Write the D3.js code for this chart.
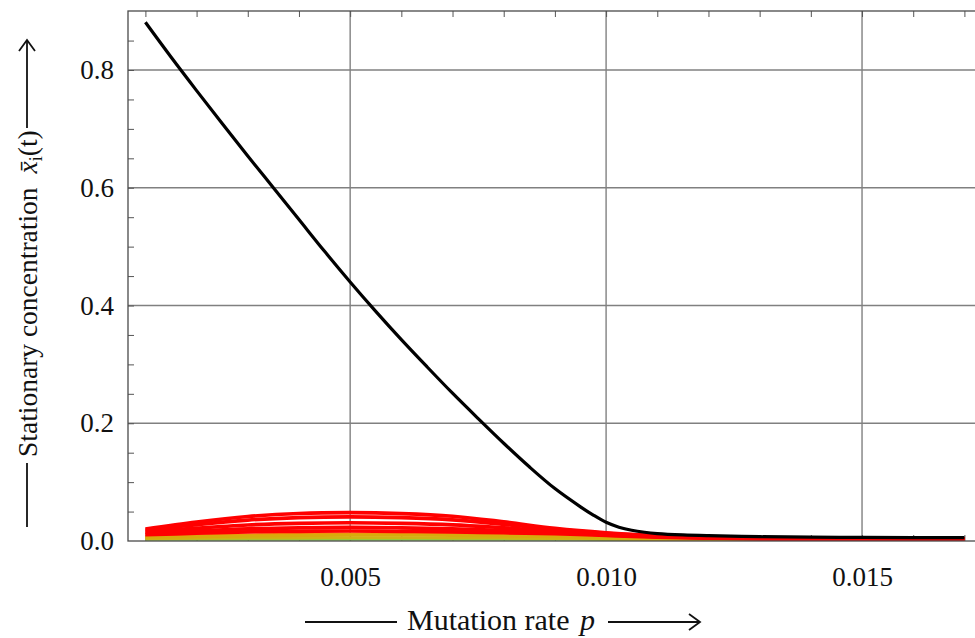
<!DOCTYPE html>
<html>
<head>
<meta charset="utf-8">
<script src="https://cdn.jsdelivr.net/npm/d3@7/dist/d3.min.js"></script>
<style>
  body { margin: 0; background: #fff; }
  svg text { font-family: "Liberation Serif", "Times New Roman", serif; fill: #111; }
</style>
</head>
<body>
<div id="chart"></div>
<script>
// mutation rate samples for the coloured curves
var pSteps = [0.001, 0.002, 0.003, 0.004, 0.005, 0.006, 0.007, 0.008, 0.009,
              0.010, 0.011, 0.012, 0.013, 0.014, 0.015, 0.016, 0.017];

// master sequence (black)
var masterP = [0.001, 0.0015, 0.002, 0.0025, 0.003, 0.0035, 0.004, 0.0045, 0.005,
               0.0055, 0.006, 0.0065, 0.007, 0.0075, 0.008, 0.0085, 0.009, 0.0095,
               0.00975, 0.010, 0.01025, 0.0105, 0.01075, 0.011, 0.0115, 0.012,
               0.013, 0.014, 0.015, 0.016, 0.017];
var masterV = [0.881, 0.822, 0.765, 0.709, 0.654, 0.600, 0.546, 0.492, 0.440,
               0.390, 0.342, 0.296, 0.251, 0.208, 0.166, 0.126, 0.089, 0.058,
               0.0440, 0.0318, 0.0235, 0.0182, 0.0148, 0.0126, 0.0103, 0.0090,
               0.0073, 0.0066, 0.0061, 0.0058, 0.0056];

// one-error mutants (red)
var red1 = [0.0204, 0.0323, 0.0416, 0.0467, 0.0481, 0.0465, 0.0420, 0.0325, 0.0215,
            0.0140, 0.0092, 0.0063, 0.0046, 0.0037, 0.0036, 0.0035, 0.0035];
var red2 = [0.0182, 0.0279, 0.0356, 0.0397, 0.0410, 0.0396, 0.0359, 0.0283, 0.0196,
            0.0131, 0.0087, 0.0059, 0.0044, 0.0037, 0.0035, 0.0035, 0.0034];
var red3 = [0.0152, 0.0218, 0.0272, 0.0300, 0.0310, 0.0299, 0.0274, 0.0225, 0.0168,
            0.0118, 0.0080, 0.0055, 0.0043, 0.0036, 0.0035, 0.0034, 0.0034];
var red4 = [0.0127, 0.0170, 0.0206, 0.0224, 0.0231, 0.0224, 0.0207, 0.0178, 0.0145,
            0.0106, 0.0074, 0.0052, 0.0041, 0.0035, 0.0034, 0.0034, 0.0033];
var red5 = [0.0106, 0.0132, 0.0155, 0.0165, 0.0170, 0.0165, 0.0155, 0.0140, 0.0124,
            0.0094, 0.0067, 0.0049, 0.0039, 0.0034, 0.0033, 0.0033, 0.0033];

// two-error mutants (orange / yellow) and three-error (green)
var orangeV = [0.0070, 0.0088, 0.0104, 0.0113, 0.0117, 0.0117, 0.0115, 0.0112, 0.0102,
               0.0076, 0.0046, 0.0031, 0.0024, 0.0024, 0.0024, 0.0024, 0.0024];
var yellow1 = [0.0062, 0.0074, 0.0085, 0.0093, 0.0097, 0.0097, 0.0093, 0.0085, 0.0074,
               0.0054, 0.0036, 0.0027, 0.0026, 0.0026, 0.0026, 0.0026, 0.0026];
var yellow2 = [0.0040, 0.0045, 0.0050, 0.0053, 0.0055, 0.0055, 0.0053, 0.0049, 0.0043,
               0.0033, 0.0025, 0.0023, 0.0022, 0.0022, 0.0022, 0.0022, 0.0022];
var greenV = [0.0021, 0.0021, 0.0021, 0.0021, 0.0021, 0.0021, 0.0021, 0.0021, 0.0020,
              0.0019, 0.0018, 0.0018, 0.0018, 0.0018, 0.0018, 0.0018, 0.0018];

var xTicks = [0.005, 0.010, 0.015];
var xTickLabels = ["0.005", "0.010", "0.015"];
var yTicks = [0.0, 0.2, 0.4, 0.6, 0.8];
var yTickLabels = ["0.0", "0.2", "0.4", "0.6", "0.8"];
var xMinor = [0.001, 0.002, 0.003, 0.004, 0.005, 0.006, 0.007, 0.008, 0.009,
              0.010, 0.011, 0.012, 0.013, 0.014, 0.015, 0.016, 0.017];
var yMinor = [0.05, 0.1, 0.15, 0.2, 0.25, 0.3, 0.35, 0.4, 0.45, 0.5, 0.55,
              0.6, 0.65, 0.7, 0.75, 0.8, 0.85];

var W = 975, H = 638;
var plot = {left: 128, right: 990, top: 11, bottom: 541};

var svg = d3.select("#chart").append("svg")
    .attr("width", W)
    .attr("height", H);

var x = d3.scaleLinear().domain([0.00066, 0.0175]).range([plot.left, plot.right]);
var y = d3.scaleLinear().domain([0, 0.9]).range([plot.bottom, plot.bottom - 0.9 * 588.75]);

svg.append("clipPath").attr("id", "clip")
  .append("rect")
    .attr("x", plot.left).attr("y", plot.top)
    .attr("width", plot.right - plot.left).attr("height", plot.bottom - plot.top);

// grid
svg.append("g").selectAll("line")
    .data(xTicks).enter().append("line")
    .attr("x1", function(d) { return x(d); }).attr("x2", function(d) { return x(d); })
    .attr("y1", plot.top).attr("y2", plot.bottom)
    .attr("stroke", "#808080").attr("stroke-width", 1.4);
svg.append("g").selectAll("line")
    .data(yTicks.filter(function(d) { return d > 0; })).enter().append("line")
    .attr("x1", plot.left).attr("x2", plot.right)
    .attr("y1", function(d) { return y(d); }).attr("y2", function(d) { return y(d); })
    .attr("stroke", "#808080").attr("stroke-width", 1.4);

// minor ticks, pointing inward on the frame
var tickCol = "#555";
svg.append("g")
    .attr("transform", "translate(0," + plot.bottom + ")")
    .call(d3.axisBottom(x).tickValues(xMinor).tickSize(-6).tickSizeOuter(0).tickFormat(""))
    .call(function(g) { g.select(".domain").remove(); g.selectAll("line").attr("stroke", tickCol); });
svg.append("g")
    .attr("transform", "translate(0," + plot.top + ")")
    .call(d3.axisTop(x).tickValues(xMinor).tickSize(-6).tickSizeOuter(0).tickFormat(""))
    .call(function(g) { g.select(".domain").remove(); g.selectAll("line").attr("stroke", tickCol); });
svg.append("g")
    .attr("transform", "translate(" + plot.left + ",0)")
    .call(d3.axisLeft(y).tickValues(yMinor).tickSize(-6).tickSizeOuter(0).tickFormat(""))
    .call(function(g) { g.select(".domain").remove(); g.selectAll("line").attr("stroke", tickCol); });

// tick labels
svg.append("g")
    .attr("transform", "translate(0," + plot.bottom + ")")
    .call(d3.axisBottom(x).tickValues(xTicks).tickSize(0).tickPadding(26)
        .tickFormat(function(d, i) { return xTickLabels[i]; }))
    .call(function(g) {
        g.select(".domain").remove();
        g.selectAll("text").style("font-size", "27px")
          .style("font-family", "'Liberation Serif', serif").attr("fill", "#111");
    });
svg.append("g")
    .attr("transform", "translate(" + plot.left + ",0)")
    .call(d3.axisLeft(y).tickValues(yTicks).tickSize(0).tickPadding(14)
        .tickFormat(function(d, i) { return yTickLabels[i]; }))
    .call(function(g) {
        g.select(".domain").remove();
        g.selectAll("text").style("font-size", "27px")
          .style("font-family", "'Liberation Serif', serif").attr("fill", "#111");
    });

// curves
var curves = svg.append("g").attr("clip-path", "url(#clip)");
function drawSeries(px, vals, color, width) {
    var pts = px.map(function(p, i) { return [p, vals[i]]; });
    curves.append("path")
        .datum(pts)
        .attr("fill", "none")
        .attr("stroke", color)
        .attr("stroke-width", width)
        .attr("stroke-linejoin", "round")
        .attr("d", d3.line()
            .curve(d3.curveCatmullRom.alpha(0.5))
            .x(function(d) { return x(d[0]); })
            .y(function(d) { return y(d[1]); }));
}
drawSeries(pSteps, greenV, "#86d040", 2);
drawSeries(pSteps, orangeV, "#f0960a", 3);
drawSeries(pSteps, yellow2, "#cdb414", 3);
drawSeries(pSteps, yellow1, "#d8aa0c", 3);
[red5, red4, red3, red2, red1].forEach(function(r) {
    drawSeries(pSteps, r, "#ff0000", 3.7);
});
drawSeries(masterP, masterV, "#000", 3.2);

// frame
svg.append("rect")
    .attr("x", plot.left).attr("y", plot.top)
    .attr("width", plot.right - plot.left).attr("height", plot.bottom - plot.top)
    .attr("fill", "none").attr("stroke", "#4a4a4a").attr("stroke-width", 1.3);

// axis titles with arrows
var ink = "#111";
svg.append("line").attr("x1", 305).attr("x2", 397).attr("y1", 622).attr("y2", 622)
    .attr("stroke", ink).attr("stroke-width", 1.8);
svg.append("text").attr("x", 407).attr("y", 630).style("font-size", "30px").text("Mutation rate");
svg.append("text").attr("x", 580).attr("y", 630).style("font-size", "30px")
    .style("font-style", "italic").text("p");
svg.append("line").attr("x1", 608).attr("x2", 700).attr("y1", 622).attr("y2", 622)
    .attr("stroke", ink).attr("stroke-width", 1.8);
svg.append("path").attr("d", "M689,614 L700,622 L689,630")
    .attr("fill", "none").attr("stroke", ink).attr("stroke-width", 1.8);

svg.append("line").attr("x1", 27).attr("x2", 27).attr("y1", 527).attr("y2", 463)
    .attr("stroke", ink).attr("stroke-width", 1.8);
var yl = svg.append("text")
    .attr("transform", "translate(37,457) rotate(-90)")
    .style("font-size", "27.5px");
yl.append("tspan").text("Stationary concentration");
yl.append("tspan").attr("dx", 14).style("font-style", "italic").text("x\u0304");
yl.append("tspan").attr("dy", 5).style("font-size", "18px").text("i");
yl.append("tspan").attr("dy", -5).text("(t)");
svg.append("line").attr("x1", 27).attr("x2", 27).attr("y1", 128).attr("y2", 40)
    .attr("stroke", ink).attr("stroke-width", 1.8);
svg.append("path").attr("d", "M19,51 L27,40 L35,51")
    .attr("fill", "none").attr("stroke", ink).attr("stroke-width", 1.8);
</script>
</body>
</html>
